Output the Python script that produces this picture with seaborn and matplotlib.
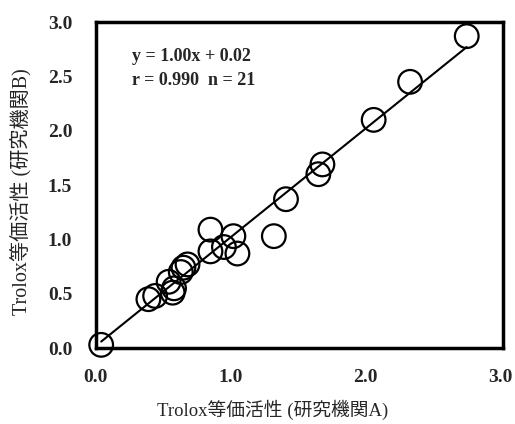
import numpy as np
import pandas as pd
import matplotlib
matplotlib.use("Agg")
import matplotlib.pyplot as plt
import seaborn as sns

# Trolox equivalent activity, lab A (x) vs lab B (y)
lab_a = [0.04, 0.39, 0.44, 0.54, 0.57, 0.58, 0.63, 0.65, 0.68, 0.85, 0.85,
         0.95, 1.02, 1.05, 1.32, 1.41, 1.65, 1.68, 2.06, 2.33, 2.75]
lab_b = [0.03, 0.45, 0.48, 0.61, 0.51, 0.55, 0.70, 0.74, 0.77, 1.09, 0.89,
         0.93, 1.03, 0.87, 1.03, 1.37, 1.60, 1.69, 2.10, 2.45, 2.87]
slope = 1.00
intercept = 0.02
eq_text = "y = 1.00x + 0.02"
stat_text = "r = 0.990  n = 21"
xlabel = "Trolox等価活性 (研究機関A)"
ylabel = "Trolox等価活性 (研究機関B)"
xticks = [0.0, 1.0, 2.0, 3.0]
yticks = [0.0, 0.5, 1.0, 1.5, 2.0, 2.5, 3.0]

df = pd.DataFrame({"a": lab_a, "b": lab_b})

sns.set_style("white")
plt.rcParams['font.family'] = ['Liberation Serif', 'Noto Sans CJK JP', 'DejaVu Sans']

fig = plt.figure(figsize=(5.15, 4.24), dpi=100)
ax = fig.add_axes([0.186, 0.179, 0.791, 0.769])

xs = np.array([df["a"].min(), df["a"].max()])
ax.plot(xs, slope * xs + intercept, color="black", lw=1.5, zorder=1)
sns.scatterplot(data=df, x="a", y="b", ax=ax, s=290, facecolor="none",
                edgecolor="black", linewidth=1.6, zorder=3, clip_on=False)

ax.set_xlim(0, 3.02)
ax.set_ylim(0, 3.0)
ax.set_xticks(xticks)
ax.set_yticks(yticks)
ax.set_xticklabels([f"{t:.1f}" for t in xticks], fontsize=14, fontweight="bold")
ax.set_yticklabels([f"{t:.1f}" for t in yticks], fontsize=14, fontweight="bold")
ax.tick_params(direction="in", length=3, width=1)
ax.tick_params(axis="x", pad=15)
ax.tick_params(axis="y", pad=17)

lab_font = ['Liberation Serif', 'Noto Sans CJK JP']
ax.set_xlabel(xlabel, fontsize=13.5, family=lab_font, va="center")
ax.set_ylabel(ylabel, fontsize=14.5, family=lab_font, va="center")
ax.xaxis.set_label_coords(0.435, -0.19)
ax.yaxis.set_label_coords(-0.182, 0.48)

for s in ax.spines.values():
    s.set_linewidth(2.5)
    s.set_color("black")

ax.text(0.09, 0.895, eq_text, transform=ax.transAxes, fontsize=13,
        fontweight="bold", va="center")
ax.text(0.09, 0.82, stat_text, transform=ax.transAxes, fontsize=13,
        fontweight="bold", va="center")

fig.savefig("out.png", dpi=100)
